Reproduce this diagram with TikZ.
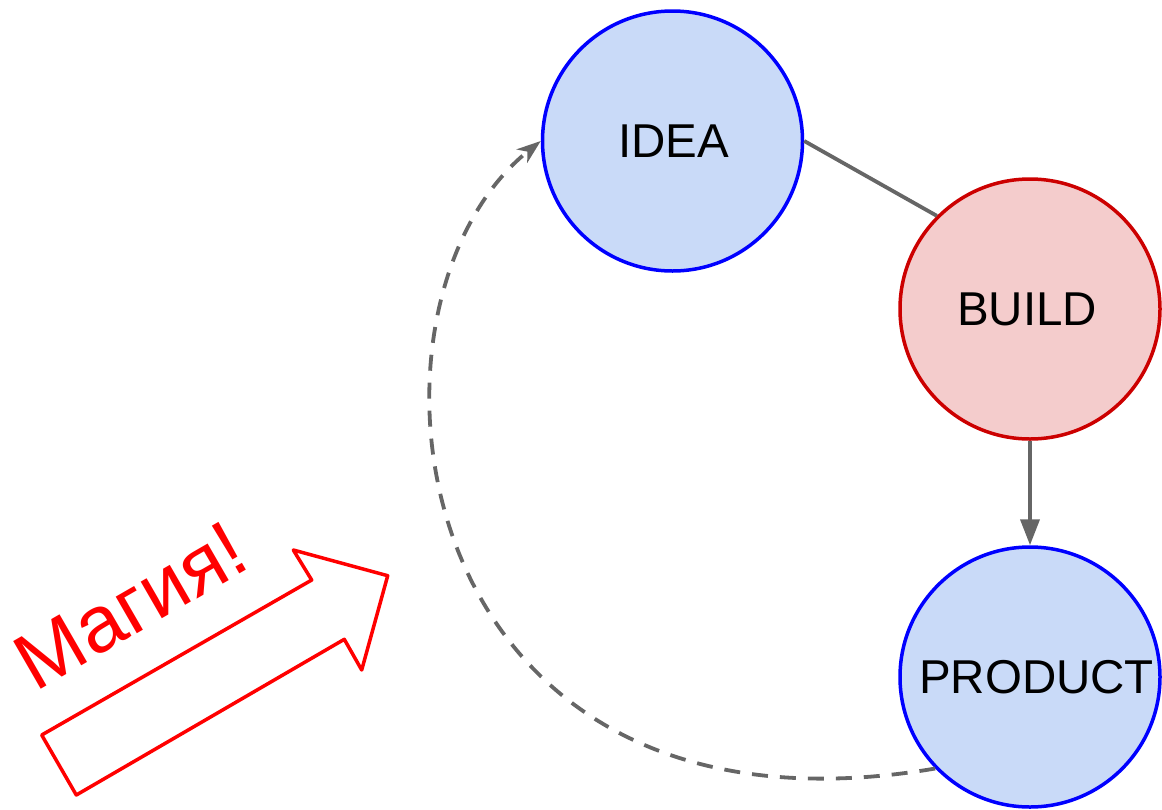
\documentclass[tikz,border=0pt]{standalone}
\usepackage{fontspec}
\setmainfont{Liberation Sans}
\usetikzlibrary{arrows.meta}
\definecolor{bluefill}{HTML}{C9DAF8}
\definecolor{bluedraw}{HTML}{0000FF}
\definecolor{redfill}{HTML}{F4CCCC}
\definecolor{reddraw}{HTML}{CC0000}
\definecolor{linegray}{HTML}{666666}
\definecolor{magic}{HTML}{FF0000}
\tikzset{
  stage/.style={circle, line width=3.5pt, minimum size=260pt, inner sep=0pt,
    font=\fontsize{47.5}{57}\selectfont},
  bluestage/.style={stage, draw=bluedraw, fill=bluefill},
  redstage/.style={stage, draw=reddraw, fill=redfill},
  link/.style={draw=linegray, line width=3.8pt},
  backlink/.style={link, dash pattern=on 16pt off 12pt,
    -{Stealth[length=24pt, width=17pt, inset=7pt, fill=linegray]}},
  forwardlink/.style={link, -{Triangle[length=26pt, width=19pt, fill=linegray]}},
  magicarrow/.style={draw=magic, line width=3.5pt, line join=round, fill=white},
  magictext/.style={text=magic, font=\fontsize{80}{96}\selectfont, rotate=30, anchor=base, inner sep=0pt}
}
\begin{document}
\begin{tikzpicture}[x=1pt, y=-1pt]
\useasboundingbox (0,0) rectangle (1162,809);
\node[bluestage] (idea) at (672.5,141) {\hspace*{2pt}IDEA};
\node[redstage] (build) at (1030,309) {BUILD\hspace*{6pt}};
\node[bluestage] (product) at (1030,677) {\hspace*{13pt}PRODUCT};
\draw[link] (idea.east) -- (build.north west);
\draw[forwardlink] (build.south) -- (product.north);
\draw[backlink] (product.224) .. controls (397,860) and (337,304) .. (idea.west);
\draw[magicarrow] (41.7,735) -- (311.7,580) -- (293.3,550) -- (387.7,575.7)
  -- (361.7,670) -- (344.3,639.3) -- (76.3,795) -- cycle;
\node[magictext] (magia) at (144.2,629.2) {Магия!};
\end{tikzpicture}
\end{document}
